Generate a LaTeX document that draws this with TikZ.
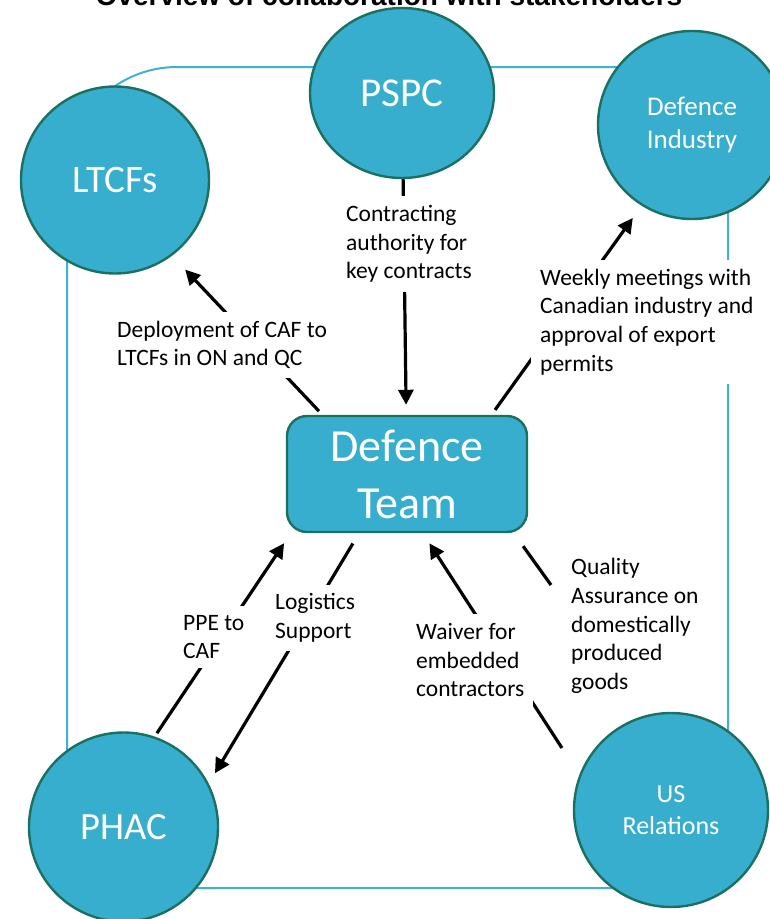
\documentclass[tikz,border=0pt]{standalone}
\usepackage{fontspec}
\setmainfont{Carlito}
\newfontfamily\headfont{Liberation Sans}
\usetikzlibrary{arrows.meta,shapes.geometric}
\definecolor{stakefill}{HTML}{37AECD}
\definecolor{stakeedge}{HTML}{1C705F}
\definecolor{frameblue}{HTML}{3FB1D3}

\begin{document}
\begin{tikzpicture}[x=1pt,y=-1pt,>={Triangle[length=15pt,width=15pt]},
  stake/.style={ellipse,draw=stakeedge,fill=stakefill,line width=2.4pt,text=white,align=center,inner sep=0pt},
  link/.style={line width=3.2pt},
  note/.style={fill=white,align=left,inner sep=9pt,font=\fontsize{23.5}{28.7}\selectfont}]
  \useasboundingbox (0,0) rectangle (770,919);
  \clip (0,0) rectangle (770,919);
  \node[anchor=base,font=\headfont\bfseries\fontsize{28}{32}\selectfont] (title) at (389,5) {Overview of collaboration with stakeholders};
  % frame behind the stakeholders
  \draw[frameblue,line width=2pt,rounded corners=110pt] (67,67) rectangle (728,888);

  \node[stake,minimum width=188pt,minimum height=187pt,font=\fontsize{39}{47}\selectfont] (ltcf) at (115,180) {LTCFs};
  \node[stake,minimum width=184pt,minimum height=170pt,font=\fontsize{41}{49}\selectfont] (pspc) at (402,93) {PSPC};
  \node[stake,minimum width=188pt,minimum height=188pt,font=\fontsize{27}{33}\selectfont] (ind) at (692,125) {Defence\\Industry};
  \node[stake,minimum width=189pt,minimum height=189pt,font=\fontsize{38.5}{46}\selectfont] (phac) at (123.5,827) {PHAC};
  \node[stake,minimum width=194pt,minimum height=194pt,font=\fontsize{26}{32}\selectfont] (us) at (671,810) {US\\Relations};
  \node[draw=stakeedge,fill=stakefill,line width=2.4pt,rounded corners=20pt,minimum width=240pt,minimum height=116pt,
        text=white,align=center,font=\fontsize{46}{57}\selectfont] (team) at (407,474) {Defence\\Team};

  % links
  \draw[link,->,shorten >=10pt] (pspc) -- (team);
  \draw[link,->,shorten <=5pt,shorten >=19pt] (team.145) -- (ltcf.-53);
  \draw[link,->,shorten <=6pt,shorten >=15pt] (team.35) -- (ind.-122);
  \draw[link,->,shorten <=4pt,shorten >=12pt] (phac.71) -- (team.-153);
  \draw[link,->,shorten <=12pt,shorten >=12pt] (team.-129) -- (phac.27);
  \draw[link,->,shorten <=32pt,shorten >=12pt] (us.159) -- (team.-75);
  \coordinate (qaend) at (551,585);
  \draw[link,shorten <=16pt] (team.-29) -- (qaend);

  % labels
  \node[note,anchor=west] (contract) at (337,244) {Contracting\\authority for\\key contracts};
  \node[note,anchor=west] (deploy) at (108,345) {Deployment of CAF to\\LTCFs in ON and QC};
  \node[note,anchor=west] (weekly) at (531,322) {Weekly meetings with\\Canadian industry and\\approval of export\\permits};
  \node[note,anchor=west] (ppe) at (174,637) {PPE to\\CAF};
  \node[note,anchor=west] (logist) at (266,618) {Logistics\\Support};
  \node[note,anchor=west] (waiver) at (407,660) {Waiver for\\embedded\\contractors};
  \node[note,anchor=west] (quality) at (562,626) {Quality\\Assurance on\\domestically\\produced\\goods};
\end{tikzpicture}
\end{document}
